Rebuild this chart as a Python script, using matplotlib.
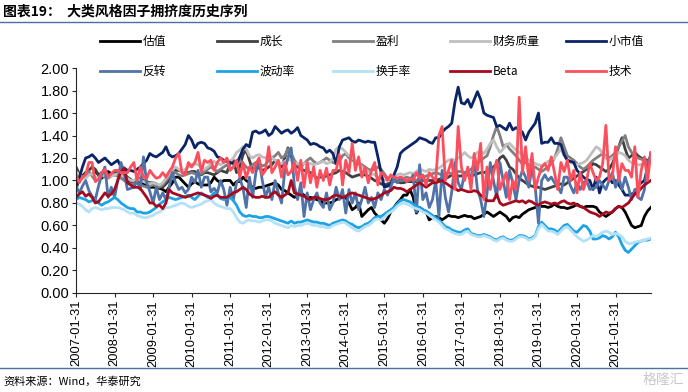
import numpy as np
import pandas as pd
import matplotlib
matplotlib.use("Agg")
import matplotlib.pyplot as plt
from matplotlib.lines import Line2D

plt.rcParams['font.family'] = ['Liberation Sans', 'Noto Sans CJK SC', 'DejaVu Sans']

# monthly observations, 2007-01-31 .. 2021-12-31
months = pd.date_range('2007-01-31', periods=180, freq='ME')
tick_labels = [f"{y}-01-31" for y in range(2007, 2022)]

valuation = [  # 估值
    1.09, 1.02, 1.04, 1.07, 1.06, 1.05, 1.08, 1.05, 1.02, 1.05, 1.08, 1.06,
    1.05, 1.07, 1.06, 1.02, 1.00, 0.99, 0.99, 1.02, 0.98, 0.97, 0.95, 0.94,
    0.94, 0.94, 0.93, 0.92, 0.90, 0.94, 0.98, 1.03, 1.03, 1.00, 0.97, 0.94,
    0.97, 0.99, 0.97, 0.96, 0.96, 0.96, 0.98, 1.03, 1.00, 0.98, 1.00, 1.00,
    1.00, 0.96, 0.99, 0.99, 1.03, 1.00, 0.98, 0.93, 0.93, 0.94, 0.94, 0.95,
    0.96, 0.97, 0.98, 0.96, 0.92, 0.91, 0.89, 0.87, 0.85, 0.87, 0.89, 0.87,
    0.85, 0.85, 0.84, 0.83, 0.82, 0.80, 0.80, 0.80, 0.81, 0.83, 0.84, 0.85,
    0.85, 0.80, 0.74, 0.76, 0.80, 0.68, 0.71, 0.74, 0.76, 0.71, 0.68, 0.65,
    0.62, 0.66, 0.72, 0.76, 0.80, 0.83, 0.87, 0.87, 0.92, 0.85, 0.71, 0.76,
    0.74, 0.72, 0.65, 0.67, 0.68, 0.67, 0.65, 0.67, 0.69, 0.68, 0.68, 0.67,
    0.68, 0.69, 0.68, 0.68, 0.66, 0.67, 0.68, 0.70, 0.72, 0.70, 0.68, 0.70,
    0.72, 0.70, 0.68, 0.64, 0.67, 0.68, 0.67, 0.70, 0.72, 0.74, 0.75, 0.76,
    0.77, 0.77, 0.77, 0.76, 0.77, 0.79, 0.77, 0.76, 0.76, 0.75, 0.76, 0.77,
    0.79, 0.77, 0.76, 0.77, 0.77, 0.77, 0.76, 0.72, 0.70, 0.68, 0.70, 0.72,
    0.75, 0.77, 0.76, 0.72, 0.66, 0.60, 0.58, 0.59, 0.60, 0.68, 0.73, 0.76,
]
growth = [  # 成长
    1.12, 1.06, 1.03, 1.07, 1.09, 1.12, 1.10, 1.05, 1.07, 1.09, 1.05, 1.06,
    1.07, 1.08, 1.08, 1.06, 1.03, 1.01, 0.98, 1.00, 1.02, 1.00, 0.99, 0.98,
    0.98, 0.97, 0.95, 0.94, 0.97, 1.00, 1.05, 1.09, 1.09, 1.08, 1.07, 1.07,
    1.08, 1.08, 1.06, 1.05, 1.07, 1.07, 1.06, 1.05, 1.07, 1.09, 1.08, 1.07,
    1.16, 1.18, 1.07, 1.12, 1.23, 1.27, 1.18, 1.09, 1.12, 1.11, 1.09, 1.10,
    1.12, 1.14, 1.18, 1.16, 1.12, 1.20, 1.29, 1.21, 1.15, 1.12, 1.10, 1.09,
    1.08, 1.07, 1.05, 1.02, 1.03, 1.03, 1.04, 1.05, 1.06, 1.07, 1.09, 1.08,
    1.07, 1.05, 1.03, 1.04, 1.05, 1.05, 1.05, 1.04, 1.02, 1.00, 0.99, 0.97,
    0.96, 0.97, 0.98, 0.99, 0.99, 0.98, 0.98, 0.99, 0.99, 0.99, 0.99, 1.00,
    1.00, 1.00, 1.00, 1.00, 1.00, 1.01, 1.02, 1.02, 1.03, 1.05, 1.05, 1.04,
    1.04, 1.05, 1.05, 1.04, 1.05, 1.06, 1.07, 1.07, 1.08, 1.10, 1.12, 1.15,
    1.20, 1.22, 1.18, 1.12, 1.10, 1.06, 1.02, 1.00, 0.98, 0.96, 0.95, 0.94,
    0.94, 0.93, 0.92, 0.93, 0.94, 0.95, 0.96, 0.97, 0.96, 0.98, 1.00, 1.02,
    1.04, 1.06, 1.08, 1.10, 1.12, 1.15, 1.14, 1.12, 1.10, 1.08, 1.10, 1.15,
    1.22, 1.30, 1.38, 1.28, 1.20, 1.22, 1.25, 1.22, 1.20, 1.19, 1.18, 1.18,
]
profit = [  # 盈利
    1.05, 1.03, 1.02, 1.05, 1.08, 1.04, 1.00, 1.03, 1.05, 1.03, 1.02, 1.04,
    1.05, 1.04, 1.02, 1.00, 0.98, 0.97, 0.97, 0.98, 0.96, 0.95, 0.94, 0.95,
    0.96, 0.95, 0.94, 0.96, 1.00, 1.05, 1.08, 1.07, 1.05, 1.04, 1.05, 1.06,
    1.07, 1.06, 1.05, 1.06, 1.08, 1.10, 1.12, 1.10, 1.08, 1.10, 1.12, 1.14,
    1.10, 1.12, 1.15, 1.18, 1.15, 1.12, 1.10, 1.14, 1.16, 1.15, 1.13, 1.14,
    1.18, 1.20, 1.22, 1.25, 1.20, 1.22, 1.28, 1.24, 1.18, 1.14, 1.12, 1.15,
    1.18, 1.20, 1.17, 1.15, 1.16, 1.18, 1.20, 1.18, 1.16, 1.15, 1.17, 1.22,
    1.24, 1.20, 1.18, 1.17, 1.15, 1.14, 1.12, 1.10, 1.09, 1.10, 1.12, 1.10,
    1.06, 1.02, 1.00, 0.99, 0.99, 1.00, 1.02, 1.03, 1.02, 1.01, 1.00, 1.02,
    1.03, 1.04, 1.05, 1.06, 1.07, 1.06, 1.05, 1.06, 1.07, 1.06, 1.07, 1.08,
    1.08, 1.07, 1.08, 1.10, 1.12, 1.15, 1.18, 1.20, 1.22, 1.30, 1.40, 1.48,
    1.40, 1.30, 1.32, 1.28, 1.25, 1.22, 1.18, 1.15, 1.16, 1.14, 1.12, 1.12,
    1.10, 1.08, 1.10, 1.12, 1.15, 1.20, 1.28, 1.38, 1.30, 1.22, 1.20, 1.18,
    1.15, 1.12, 1.10, 1.12, 1.15, 1.18, 1.20, 1.22, 1.24, 1.22, 1.20, 1.22,
    1.25, 1.30, 1.35, 1.40, 1.30, 1.25, 1.22, 1.20, 1.19, 1.18, 1.17, 1.16,
]
quality = [  # 财务质量
    1.08, 1.05, 1.03, 1.02, 1.05, 1.06, 1.03, 1.02, 1.04, 1.05, 1.03, 1.04,
    1.05, 1.06, 1.05, 1.03, 1.02, 1.00, 1.00, 1.02, 1.00, 0.99, 0.98, 0.97,
    0.98, 0.97, 0.96, 0.98, 1.02, 1.06, 1.10, 1.12, 1.10, 1.08, 1.10, 1.12,
    1.14, 1.15, 1.14, 1.12, 1.10, 1.12, 1.15, 1.17, 1.15, 1.14, 1.16, 1.18,
    1.17, 1.20, 1.25, 1.27, 1.30, 1.28, 1.22, 1.20, 1.22, 1.23, 1.21, 1.20,
    1.22, 1.20, 1.18, 1.16, 1.15, 1.17, 1.19, 1.18, 1.16, 1.15, 1.14, 1.15,
    1.16, 1.15, 1.14, 1.15, 1.16, 1.17, 1.15, 1.16, 1.20, 1.28, 1.30, 1.28,
    1.25, 1.22, 1.20, 1.18, 1.15, 1.12, 1.10, 1.08, 1.06, 1.05, 1.03, 1.02,
    1.00, 1.01, 1.02, 1.03, 1.05, 1.06, 1.05, 1.06, 1.07, 1.06, 1.08, 1.10,
    1.09, 1.08, 1.10, 1.09, 1.10, 1.11, 1.13, 1.16, 1.18, 1.19, 1.18, 1.20,
    1.22, 1.25, 1.22, 1.20, 1.22, 1.25, 1.26, 1.24, 1.28, 1.33, 1.36, 1.30,
    1.25, 1.28, 1.32, 1.33, 1.30, 1.27, 1.25, 1.23, 1.21, 1.18, 1.16, 1.15,
    1.14, 1.13, 1.15, 1.17, 1.18, 1.20, 1.24, 1.28, 1.22, 1.18, 1.16, 1.15,
    1.14, 1.15, 1.16, 1.18, 1.22, 1.26, 1.30, 1.28, 1.24, 1.20, 1.18, 1.20,
    1.22, 1.25, 1.24, 1.22, 1.18, 1.16, 1.15, 1.14, 1.14, 1.14, 1.15, 1.16,
]
small_cap = [  # 小市值
    0.92, 1.02, 1.12, 1.20, 1.21, 1.23, 1.20, 1.16, 1.18, 1.20, 1.17, 1.14,
    1.16, 1.18, 1.12, 1.11, 1.09, 1.09, 1.08, 1.10, 1.12, 1.15, 1.18, 1.24,
    1.22, 1.21, 1.23, 1.25, 1.30, 1.23, 1.21, 1.22, 1.24, 1.28, 1.32, 1.40,
    1.36, 1.29, 1.33, 1.34, 1.33, 1.29, 1.28, 1.26, 1.21, 1.20, 1.18, 1.17,
    1.16, 1.15, 1.15, 1.21, 1.28, 1.32, 1.30, 1.43, 1.44, 1.42, 1.43, 1.45,
    1.40, 1.42, 1.48, 1.45, 1.42, 1.44, 1.45, 1.42, 1.44, 1.47, 1.40, 1.38,
    1.36, 1.32, 1.33, 1.32, 1.30, 1.29, 1.25, 1.27, 1.24, 1.15, 1.30, 1.36,
    1.37, 1.38, 1.35, 1.34, 1.36, 1.35, 1.34, 1.35, 1.34, 1.34, 1.21, 1.07,
    0.94, 0.95, 0.96, 1.05, 1.12, 1.24, 1.27, 1.29, 1.31, 1.33, 1.35, 1.38,
    1.37, 1.36, 1.34, 1.33, 1.38, 1.38, 1.43, 1.46, 1.48, 1.51, 1.70, 1.83,
    1.69, 1.68, 1.72, 1.65, 1.72, 1.79, 1.72, 1.60, 1.58, 1.57, 1.56, 1.48,
    1.49, 1.47, 1.45, 1.51, 1.45, 1.47, 1.45, 1.43, 1.36, 1.43, 1.47, 1.51,
    1.60, 1.33, 1.34, 1.34, 1.38, 1.33, 1.33, 1.32, 1.23, 1.18, 1.17, 1.16,
    1.09, 1.06, 1.03, 1.01, 1.00, 0.92, 1.03, 0.89, 0.98, 1.01, 1.03, 0.98,
    1.00, 0.96, 0.92, 0.87, 0.87, 0.88, 0.89, 0.95, 0.98, 1.00, 1.12, 1.24,
]
reversal = [  # 反转
    0.95, 0.89, 0.95, 1.00, 0.91, 0.86, 0.83, 0.95, 1.05, 1.12, 0.85, 0.94,
    0.85, 1.00, 1.16, 1.07, 0.92, 0.93, 0.94, 1.00, 0.92, 1.21, 0.98, 0.90,
    0.80, 0.94, 0.83, 0.89, 0.83, 0.94, 1.07, 0.98, 0.92, 0.94, 0.89, 0.92,
    1.03, 0.98, 1.09, 0.94, 1.03, 1.03, 0.90, 0.93, 0.89, 1.00, 0.92, 0.78,
    0.94, 0.83, 0.98, 1.02, 0.93, 0.76, 1.03, 0.85, 1.07, 1.18, 1.00, 0.85,
    0.94, 0.83, 1.00, 0.89, 0.80, 1.09, 1.20, 1.29, 0.95, 0.83, 0.98, 0.68,
    0.89, 0.74, 0.83, 0.89, 0.80, 0.76, 0.89, 0.74, 0.80, 0.94, 0.83, 0.92,
    0.71, 0.92, 0.80, 0.89, 0.74, 0.83, 0.94, 0.80, 0.85, 0.76, 0.89, 0.83,
    0.92, 0.87, 0.94, 1.03, 0.98, 1.03, 1.00, 1.00, 1.00, 1.05, 0.72, 1.14,
    0.83, 0.89, 0.76, 0.83, 1.00, 0.68, 1.09, 0.85, 0.72, 0.90, 1.16, 0.98,
    0.92, 1.07, 1.05, 1.03, 1.18, 0.92, 0.83, 0.68, 0.89, 1.16, 1.00, 0.85,
    1.16, 1.00, 0.85, 1.09, 0.98, 0.83, 1.00, 1.09, 1.03, 0.94, 1.12, 0.94,
    0.62, 1.00, 1.05, 1.00, 1.03, 0.98, 0.95, 0.89, 1.03, 1.03, 0.95, 0.89,
    0.98, 0.92, 0.98, 1.00, 0.92, 0.93, 0.94, 1.00, 0.96, 0.92, 1.00, 1.07,
    0.94, 1.03, 0.92, 1.03, 0.94, 0.83, 0.92, 0.85, 0.83, 0.92, 1.16, 1.21,
]
volatility = [  # 波动率
    0.83, 0.85, 0.84, 0.83, 0.81, 0.82, 0.83, 0.80, 0.78, 0.80, 0.81, 0.83,
    0.85, 0.83, 0.80, 0.78, 0.76, 0.75, 0.75, 0.72, 0.72, 0.71, 0.71, 0.72,
    0.74, 0.76, 0.79, 0.81, 0.83, 0.85, 0.84, 0.83, 0.84, 0.85, 0.86, 0.87,
    0.85, 0.83, 0.86, 0.89, 0.87, 0.85, 0.86, 0.89, 0.87, 0.84, 0.83, 0.84,
    0.85, 0.82, 0.78, 0.72, 0.69, 0.68, 0.69, 0.68, 0.68, 0.67, 0.67, 0.68,
    0.68, 0.67, 0.66, 0.65, 0.64, 0.63, 0.62, 0.64, 0.62, 0.63, 0.63, 0.64,
    0.65, 0.64, 0.63, 0.63, 0.62, 0.62, 0.61, 0.60, 0.62, 0.63, 0.64, 0.65,
    0.64, 0.62, 0.61, 0.59, 0.58, 0.59, 0.61, 0.62, 0.64, 0.67, 0.68, 0.68,
    0.70, 0.72, 0.74, 0.76, 0.79, 0.82, 0.83, 0.82, 0.81, 0.79, 0.77, 0.76,
    0.74, 0.73, 0.71, 0.69, 0.67, 0.65, 0.62, 0.59, 0.58, 0.56, 0.55, 0.54,
    0.54, 0.56, 0.57, 0.53, 0.52, 0.51, 0.51, 0.52, 0.51, 0.50, 0.48, 0.47,
    0.49, 0.50, 0.48, 0.47, 0.47, 0.49, 0.51, 0.51, 0.50, 0.48, 0.49, 0.51,
    0.59, 0.63, 0.60, 0.57, 0.57, 0.56, 0.54, 0.57, 0.60, 0.61, 0.58, 0.55,
    0.54, 0.57, 0.60, 0.59, 0.55, 0.48, 0.48, 0.49, 0.51, 0.50, 0.48, 0.50,
    0.54, 0.50, 0.43, 0.38, 0.36, 0.39, 0.42, 0.45, 0.46, 0.47, 0.47, 0.48,
]
turnover = [  # 换手率
    0.80, 0.79, 0.77, 0.74, 0.72, 0.75, 0.76, 0.75, 0.74, 0.75, 0.75, 0.76,
    0.76, 0.76, 0.75, 0.74, 0.72, 0.71, 0.71, 0.69, 0.68, 0.67, 0.67, 0.68,
    0.69, 0.71, 0.72, 0.74, 0.76, 0.76, 0.77, 0.78, 0.79, 0.80, 0.79, 0.77,
    0.76, 0.77, 0.78, 0.79, 0.81, 0.82, 0.83, 0.80, 0.78, 0.77, 0.76, 0.75,
    0.75, 0.72, 0.67, 0.63, 0.62, 0.64, 0.65, 0.64, 0.64, 0.63, 0.64, 0.65,
    0.65, 0.64, 0.62, 0.61, 0.60, 0.59, 0.58, 0.60, 0.59, 0.60, 0.60, 0.61,
    0.62, 0.61, 0.60, 0.60, 0.59, 0.59, 0.58, 0.58, 0.60, 0.61, 0.62, 0.63,
    0.62, 0.60, 0.58, 0.56, 0.55, 0.57, 0.59, 0.60, 0.62, 0.65, 0.66, 0.65,
    0.67, 0.70, 0.72, 0.74, 0.77, 0.79, 0.80, 0.79, 0.78, 0.76, 0.75, 0.74,
    0.72, 0.71, 0.69, 0.67, 0.65, 0.63, 0.60, 0.57, 0.56, 0.54, 0.53, 0.52,
    0.52, 0.54, 0.55, 0.52, 0.51, 0.50, 0.50, 0.51, 0.50, 0.49, 0.47, 0.46,
    0.48, 0.49, 0.47, 0.46, 0.46, 0.48, 0.50, 0.50, 0.49, 0.47, 0.48, 0.50,
    0.57, 0.61, 0.58, 0.55, 0.55, 0.54, 0.52, 0.55, 0.58, 0.59, 0.56, 0.53,
    0.50, 0.48, 0.46, 0.47, 0.49, 0.51, 0.50, 0.52, 0.54, 0.55, 0.54, 0.52,
    0.53, 0.52, 0.50, 0.46, 0.44, 0.44, 0.45, 0.46, 0.46, 0.47, 0.48, 0.49,
]
beta = [  # Beta
    0.85, 0.88, 0.90, 0.86, 0.88, 0.85, 0.80, 0.81, 0.85, 0.89, 0.86, 0.88,
    0.92, 1.00, 1.08, 1.11, 0.98, 0.96, 0.94, 0.94, 0.93, 0.89, 0.85, 0.80,
    0.80, 0.77, 0.78, 0.75, 0.80, 0.92, 0.89, 0.88, 0.87, 0.86, 0.85, 0.86,
    0.87, 0.88, 0.89, 0.88, 0.87, 0.86, 0.84, 0.86, 0.87, 0.85, 0.85, 0.85,
    0.87, 0.89, 0.90, 0.92, 0.94, 0.92, 0.88, 0.86, 0.85, 0.85, 0.86, 0.85,
    0.85, 0.88, 0.90, 0.87, 0.85, 0.87, 0.89, 1.00, 0.89, 0.88, 0.87, 0.86,
    0.84, 0.83, 0.85, 0.85, 0.84, 0.83, 0.83, 0.84, 0.86, 0.87, 0.86, 0.85,
    0.86, 0.88, 0.89, 0.88, 0.87, 0.86, 0.85, 0.84, 0.83, 0.84, 0.85, 0.87,
    0.89, 0.90, 0.91, 0.94, 0.93, 0.93, 0.92, 0.90, 0.92, 0.94, 0.96, 0.98,
    0.96, 0.94, 0.96, 0.98, 0.98, 0.99, 1.00, 0.98, 0.96, 0.94, 0.93, 0.91,
    0.92, 0.91, 0.90, 0.90, 0.91, 0.90, 0.87, 0.85, 0.82, 0.82, 0.82, 0.88,
    0.80, 0.78, 0.79, 0.80, 0.81, 0.82, 0.81, 0.82, 0.80, 0.82, 0.81, 0.79,
    0.78, 0.80, 0.81, 0.80, 0.79, 0.80, 0.79, 0.81, 0.82, 0.80, 0.79, 0.80,
    0.78, 0.77, 0.76, 0.74, 0.72, 0.71, 0.70, 0.68, 0.70, 0.72, 0.71, 0.72,
    0.75, 0.77, 0.76, 0.78, 0.80, 0.84, 0.88, 0.90, 0.93, 0.96, 0.98, 1.00,
]
technical = [  # 技术
    1.05, 0.98, 1.03, 1.05, 1.16, 1.16, 0.99, 1.01, 1.07, 1.10, 1.03, 1.06,
    1.09, 1.09, 1.07, 1.07, 1.07, 1.12, 1.16, 1.00, 1.12, 1.03, 1.02, 1.09,
    1.05, 1.02, 1.03, 1.07, 1.03, 1.08, 1.12, 1.20, 1.24, 1.07, 1.05, 1.16,
    1.12, 1.16, 1.25, 1.08, 1.18, 1.16, 1.18, 1.09, 1.16, 1.20, 1.16, 1.20,
    1.09, 1.12, 1.18, 1.03, 1.16, 1.02, 1.12, 1.07, 1.15, 1.20, 1.05, 1.09,
    1.30, 1.07, 1.12, 1.18, 1.03, 1.16, 1.05, 1.08, 1.16, 1.00, 1.18, 0.94,
    1.16, 0.98, 1.12, 0.94, 1.09, 1.00, 1.11, 0.96, 1.09, 1.09, 1.23, 0.96,
    1.18, 1.07, 1.33, 1.09, 1.21, 1.03, 1.12, 0.98, 1.09, 1.16, 0.96, 1.07,
    1.05, 1.00, 1.05, 1.03, 1.02, 1.03, 1.02, 0.99, 1.02, 1.00, 1.07, 1.02,
    1.05, 0.96, 1.07, 1.03, 1.00, 1.40, 1.48, 1.00, 1.09, 1.18, 0.92, 1.48,
    1.12, 1.00, 1.12, 0.92, 1.24, 1.09, 1.33, 0.83, 1.12, 0.92, 1.07, 1.18,
    0.92, 1.00, 1.07, 0.83, 1.00, 0.92, 1.74, 1.07, 1.30, 1.00, 1.24, 0.92,
    1.03, 1.12, 1.15, 1.09, 1.21, 1.07, 0.92, 1.16, 1.08, 1.18, 1.00, 1.09,
    0.89, 1.07, 0.92, 1.00, 1.15, 1.07, 1.00, 1.03, 1.15, 1.49, 1.00, 1.03,
    1.30, 1.00, 1.15, 1.09, 1.09, 1.03, 1.30, 0.85, 1.09, 1.21, 1.00, 1.25,
]

series = [
    ('估值', valuation, '#000000'),
    ('成长', growth, '#404040'),
    ('盈利', profit, '#808080'),
    ('财务质量', quality, '#bfbfbf'),
    ('小市值', small_cap, '#0a2466'),
    ('反转', reversal, '#4f72a8'),
    ('波动率', volatility, '#1ea2e6'),
    ('换手率', turnover, '#b3e1f7'),
    ('Beta', beta, '#a50a1e'),
    ('技术', technical, '#fb4f5d'),
]

fig = plt.figure(figsize=(6.88, 3.92), dpi=100)
ax = fig.add_axes([0.1105, 0.2526, 0.8355, 0.5739])

x = np.arange(len(months))
handles = []
for name, vals, color in series:
    h, = ax.plot(x, vals, color=color, lw=2.0, solid_joinstyle='round', label=name)
    handles.append(h)

ax.set_xlim(0, len(months) - 1)
ax.set_ylim(0, 2.0)
yt = np.arange(0, 2.01, 0.2)
ax.set_yticks(yt)
ax.set_yticklabels([f"{v:.2f}" for v in yt], fontsize=10.5)
ax.set_xticks(x[::12])
ax.set_xticklabels(tick_labels, rotation=90, fontsize=9.3)
for s in ['top', 'right']:
    ax.spines[s].set_visible(False)
for s in ['left', 'bottom']:
    ax.spines[s].set_color('#262626')
    ax.spines[s].set_linewidth(0.8)
ax.tick_params(axis='both', direction='out', length=3, width=0.8, color='#262626', pad=2)

# legend: 5 columns x 2 rows, evenly spaced like the source
col_x = [104, 221, 337, 454, 570]
for c in range(5):
    pair = [handles[c], handles[c + 5]]
    fig.legend(pair, [h.get_label() for h in pair], loc='upper left',
               bbox_to_anchor=(col_x[c] / 688 - 0.006, 1 - 35 / 392),
               frameon=False, ncol=1, handlelength=3.4, handletextpad=0.2,
               labelspacing=1.45, borderaxespad=0, borderpad=0,
               prop={'family': ['Noto Sans CJK SC', 'Liberation Sans'], 'size': 8.5})

# title and framing rules
fig.text(0.005, 1 - 12 / 392, '图表19：  大类风格因子拥挤度历史序列', fontsize=10, fontweight='bold',
         family=['Noto Sans CJK SC'], va='center', ha='left')
fig.add_artist(Line2D([0, 1], [1 - 22 / 392, 1 - 22 / 392], color='#4f6fa0', lw=1.0))
fig.add_artist(Line2D([0, 1], [1 - 368 / 392, 1 - 368 / 392], color='#4f6fa0', lw=1.0))
fig.text(0.005, 1 - 381 / 392, '资料来源：Wind，华泰研究', fontsize=8,
         family=['Noto Sans CJK SC', 'Liberation Sans'], va='center', ha='left')
fig.text(0.995, 1 - 380 / 392, '格隆汇', fontsize=10, color='#c8c8c8',
         family=['Noto Sans CJK SC'], va='center', ha='right')

fig.savefig('out.png', dpi=100)
